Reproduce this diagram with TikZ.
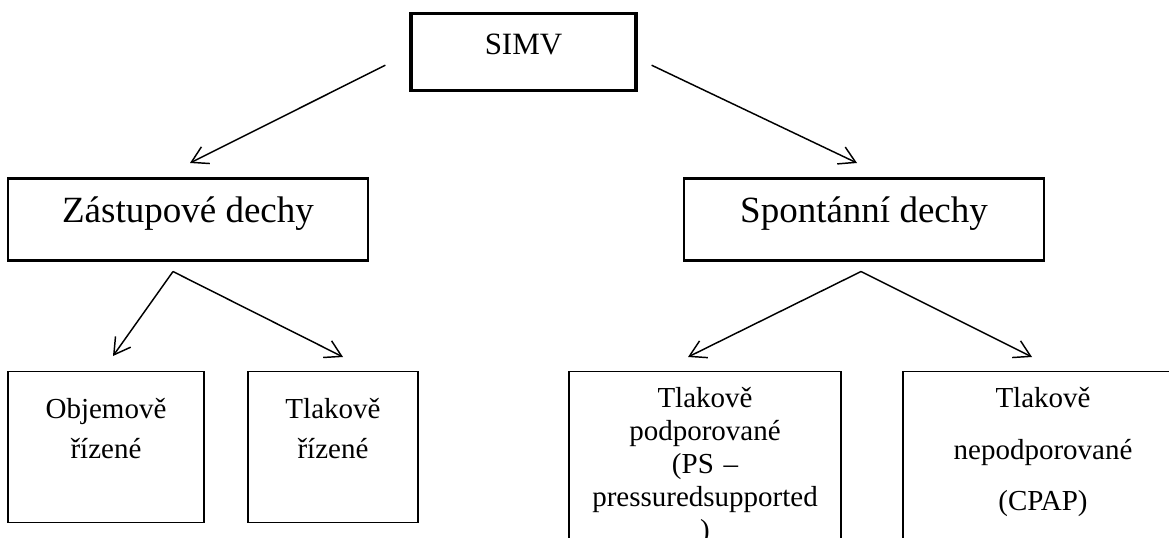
\documentclass[tikz,border=0pt]{standalone}
\usepackage{fontspec}
\setmainfont{Liberation Serif}
\usetikzlibrary{arrows.meta}

\begin{document}
\begin{tikzpicture}[
x=0.75pt, y=-0.75pt,
box/.style={
	draw,
	anchor=north,
	inner xsep=0pt,
	inner ysep=0pt,
	align=center
},
simvbox/.style={
	box,
	line width=2.4pt,
	minimum width=168.75pt,
	text height=30.75pt,
	text depth=27pt,
	font=\fontsize{23.25pt}{28pt}\selectfont
},
groupbox/.style={
	box,
	line width=1.9pt,
	minimum width=270pt,
	text height=33pt,
	text depth=28.5pt,
	font=\fontsize{27.75pt}{33pt}\selectfont
},
modebox/.style={
	box,
	line width=0.9pt,
	font=\fontsize{21.75pt}{30pt}\selectfont
},
arr/.style={
	line width=1.1pt,
	-{Straight Barb[length=12pt,width=14pt]}
}
]

\useasboundingbox (0,0) rectangle (1169,538);
\clip (0,0) rectangle (1169,538);

\node[simvbox] (simv) at (523.5,12) {SIMV};

\node[groupbox] (zast) at (188,177) {Zástupové dechy};
\node[groupbox] (spon) at (864,177) {Spontánní dechy};

\node[modebox, text width=147pt, text height=35.25pt, text depth=78pt]
(obj) at (106,371) {Objemově\\řízené};
\node[modebox, text width=127.5pt, text height=35.25pt, text depth=78pt]
(tlr) at (333,371) {Tlakově\\řízené};
\node[modebox, text width=204pt, text height=27pt, text depth=150pt,
font=\fontsize{21.75pt}{24.75pt}\selectfont]
(tpp) at (705,371) {Tlakově\\podporované\\(PS –\\pressuredsupported\\)};
\node[modebox, text width=210pt, text height=27pt, text depth=150pt,
font=\fontsize{21.75pt}{38.6pt}\selectfont]
(tnp) at (1043,371) {Tlakově\\nepodporované\\(CPAP)};

\coordinate (simv-l) at ([shift={(-24,-27)}]simv.south west);
\coordinate (simv-r) at ([shift={(14,-27)}]simv.south east);
\coordinate (zast-in) at ([shift={(2,-14)}]zast.north);
\coordinate (spon-in) at ([shift={(-7,-14)}]spon.north);
\coordinate (zast-out) at ([shift={(-15,10)}]zast.south);
\coordinate (spon-out) at ([shift={(-3,10)}]spon.south);
\coordinate (obj-in) at ([shift={(7,-15)}]obj.north);
\coordinate (tlr-in) at ([shift={(10,-14)}]tlr.north);
\coordinate (tpp-in) at ([shift={(-17,-14)}]tpp.north);
\coordinate (tnp-in) at ([shift={(-11,-14)}]tnp.north);

\draw[arr] (simv-l) -- (zast-in);
\draw[arr] (simv-r) -- (spon-in);
\draw[arr] (zast-out) -- (obj-in);
\draw[arr] (zast-out) -- (tlr-in);
\draw[arr] (spon-out) -- (tpp-in);
\draw[arr] (spon-out) -- (tnp-in);

\end{tikzpicture}
\end{document}
